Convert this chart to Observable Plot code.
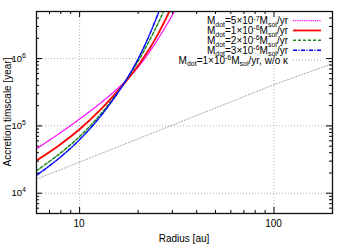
<!DOCTYPE html>
<html><head><meta charset="utf-8">
<script src="https://cdn.jsdelivr.net/npm/d3@7"></script>
<script src="https://cdn.jsdelivr.net/npm/@observablehq/plot@0.6"></script>
<style>body{margin:0;background:#fff} svg{font-family:"Liberation Sans",Arial,sans-serif}</style>
</head><body><div id="chart"></div>
<script>
// Radius [au] and accretion timescale [year]
const r_5e7 = [6, 7.73, 10, 12.88, 16.6, 18.92, 21.55, 24.85, 30.8, 35.5];
const t_5e7 = [4.57e4, 7.46e4, 1.265e5, 2.21e5, 4.17e5, 6.18e5, 9.86e5, 1.8e6, 5.1e6, 1.25e7];
const r_1e6 = [6, 7.73, 10, 12.88, 16.6, 18.92, 21.55, 24.85, 28.8, 33.0];
const t_1e6 = [3.07e4, 5.0e4, 8.9e4, 1.77e5, 3.96e5, 6.3e5, 1.07e6, 2.1e6, 4.86e6, 1.2e7];
const r_2e6 = [6, 7.73, 10, 12.88, 16.6, 18.92, 21.55, 24.85, 26.8, 31.1];
const t_2e6 = [2.16e4, 3.68e4, 6.95e4, 1.51e5, 3.96e5, 7.05e5, 1.34e6, 2.98e6, 4.75e6, 1.34e7];
const r_3e6 = [6, 7.73, 10, 12.88, 16.6, 18.92, 21.55, 25.2, 29.4];
const t_3e6 = [1.845e4, 3.2e4, 6.26e4, 1.415e5, 3.93e5, 7.36e5, 1.535e6, 4.45e6, 1.56e7];
const r_nok = [6, 10, 100, 200];
const t_nok = [1.62e4, 2.9e4, 4.1e5, 8.4e5];

// legend pieces
const legendCoef = ["5", "1", "2", "3", "1"];
const legendExp = ["-7", "-6", "-6", "-6", "-6"];
const legendSuffix = ["", "", "", "", ", w/o κ"];

const xMajor = [10, 100];
const xMinor = [7, 8, 9, 20, 30, 40, 50, 60, 70, 80, 90, 200];
const yMajor = [1e4, 1e5, 1e6];
const yMinor = [6e3, 7e3, 8e3, 9e3, 2e4, 3e4, 4e4, 5e4, 6e4, 7e4, 8e4, 9e4,
  2e5, 3e5, 4e5, 5e5, 6e5, 7e5, 8e5, 9e5, 2e6, 3e6, 4e6];
const xTickLabels = ["10", "100"];
const yTickExp = ["4", "5", "6"];

const mk = (rs, ts) => rs.map((r, i) => ({r, t: ts[i]}));

const styles = [
  {stroke: "#ff00ff", strokeWidth: 1.2, strokeDasharray: "1.2,1"},
  {stroke: "#ff0000", strokeWidth: 1.8, strokeDasharray: null},
  {stroke: "#1e8a1e", strokeWidth: 1.5, strokeDasharray: "3,2"},
  {stroke: "#0000ff", strokeWidth: 1.5, strokeDasharray: "4,1.5,1,1.5"},
  {stroke: "#a0a0a0", strokeWidth: 1, strokeDasharray: "1,2"}
];
const series = [mk(r_5e7, t_5e7), mk(r_1e6, t_1e6), mk(r_2e6, t_2e6), mk(r_3e6, t_3e6), mk(r_nok, t_nok)];

const W = 350, H = 245, mL = 36, mR = 18, mT = 11, mB = 32;
const fw = W - mL - mR, fh = H - mT - mB;

const lineMarks = series.map((d, i) => Plot.line(d, {
  x: "r", y: "t", curve: i === 4 ? "linear" : "catmull-rom", clip: true,
  stroke: styles[i].stroke, strokeWidth: styles[i].strokeWidth,
  strokeDasharray: styles[i].strokeDasharray
}));

const chart = Plot.plot({
  width: W, height: H,
  marginLeft: mL, marginRight: mR, marginTop: mT, marginBottom: mB,
  style: {fontFamily: "Liberation Sans, Arial, sans-serif", fontSize: "10px", background: "#fff"},
  x: {type: "log", domain: [6, 200], axis: null},
  y: {type: "log", domain: [5e3, 5e6], axis: null},
  marks: [
    Plot.ruleX(xMajor, {stroke: "#9a9a9a", strokeWidth: 0.8, strokeDasharray: "1,2"}),
    Plot.ruleY(yMajor, {stroke: "#9a9a9a", strokeWidth: 0.8, strokeDasharray: "1,2"}),
    ...lineMarks,
    Plot.tickX(xMajor, {x: d => d, insetTop: fh - 6, stroke: "#000"}),
    Plot.tickX(xMajor, {x: d => d, insetBottom: fh - 6, stroke: "#000"}),
    Plot.tickX(xMinor, {x: d => d, insetTop: fh - 3, stroke: "#000"}),
    Plot.tickX(xMinor, {x: d => d, insetBottom: fh - 3, stroke: "#000"}),
    Plot.tickY(yMajor, {y: d => d, insetRight: fw - 6, stroke: "#000"}),
    Plot.tickY(yMajor, {y: d => d, insetLeft: fw - 6, stroke: "#000"}),
    Plot.tickY(yMinor, {y: d => d, insetRight: fw - 3, stroke: "#000"}),
    Plot.tickY(yMinor, {y: d => d, insetLeft: fw - 3, stroke: "#000"}),
    Plot.frame({stroke: "#111", strokeWidth: 1.3})
  ]
});
document.getElementById("chart").appendChild(chart);

const svg = d3.select(chart);
const sx = chart.scale("x"), sy = chart.scale("y");
const fx = v => sx.apply(v), fy = v => sy.apply(v);

// opaque key box (hides grid behind the legend)
svg.insert("rect", "g[aria-label='line']")
  .attr("x", 152).attr("y", mT + 1).attr("width", W - mR - 153).attr("height", 52)
  .attr("fill", "#fff");

const g = svg.append("g").attr("font-family", "Liberation Sans, Arial, sans-serif").attr("fill", "#000");

// x tick labels
xMajor.forEach((v, i) => {
  g.append("text").attr("x", fx(v)).attr("y", H - mB + 14).attr("text-anchor", "middle")
    .attr("font-size", 10).text(xTickLabels[i]);
});
// y tick labels
yMajor.forEach((v, i) => {
  const t = g.append("text").attr("x", 26).attr("y", fy(v) + 3.5).attr("text-anchor", "end").attr("font-size", 9.5);
  t.append("tspan").text("10");
  t.append("tspan").attr("dy", -4).attr("font-size", 7).text(yTickExp[i]);
});
// axis titles
g.append("text").attr("x", mL + fw / 2).attr("y", H - 3.5).attr("text-anchor", "middle")
  .attr("font-size", 10).text("Radius [au]");
g.append("text").attr("transform", `translate(11,${mT + fh / 2}) rotate(-90)`).attr("text-anchor", "middle")
  .attr("font-size", 10).text("Accretion timscale [year]");

// legend
legendCoef.forEach((c, i) => {
  const yy = 20.6 + i * 9.85;
  const t = g.append("text").attr("x", 288).attr("y", yy + 3.6).attr("text-anchor", "end").attr("font-size", 10);
  t.append("tspan").text("M");
  t.append("tspan").attr("dy", 2.6).attr("font-size", 7).text("dot");
  t.append("tspan").attr("dy", -2.6).text("=" + c + "×10");
  t.append("tspan").attr("dy", -3.6).attr("font-size", 7).text(legendExp[i]);
  t.append("tspan").attr("dy", 3.6).text("M");
  t.append("tspan").attr("dy", 2.6).attr("font-size", 7).text("sol");
  t.append("tspan").attr("dy", -2.6).text("/yr" + legendSuffix[i]);
  const s = styles[i];
  g.append("line").attr("x1", 293).attr("x2", 321).attr("y1", yy).attr("y2", yy)
    .attr("stroke", s.stroke).attr("stroke-width", s.strokeWidth)
    .attr("stroke-dasharray", s.strokeDasharray);
});
</script>
</body></html>
